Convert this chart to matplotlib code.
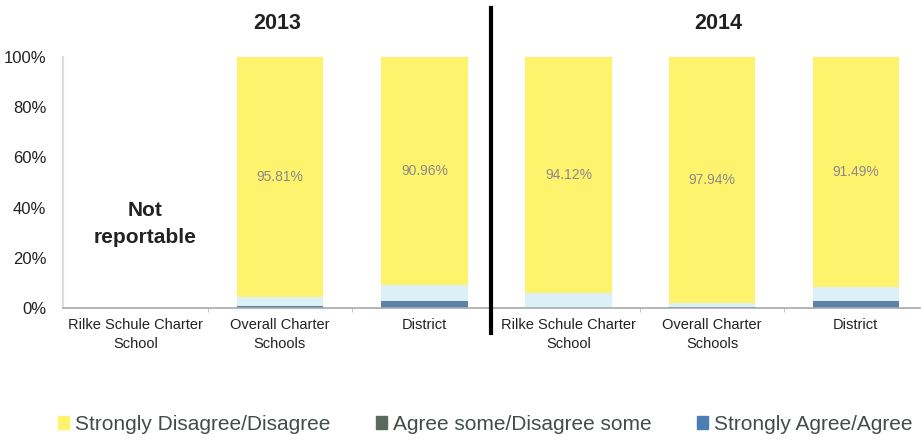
import matplotlib
matplotlib.use("Agg")
import matplotlib.pyplot as plt
from matplotlib.lines import Line2D
from matplotlib.patches import Patch

plt.rcParams['font.family'] = ['Liberation Sans', 'DejaVu Sans']

categories = ["Rilke Schule Charter\nSchool", "Overall Charter\nSchools", "District"]
years = ["2013", "2014"]

# stacked from the bottom up, percent
agree = {"2013": [0.0, 0.7, 2.8], "2014": [0.0, 0.56, 2.8]}
some = {"2013": [0.0, 3.49, 6.24], "2014": [5.88, 1.5, 5.71]}
disagree = {"2013": [0.0, 95.81, 90.96], "2014": [94.12, 97.94, 91.49]}
reportable = {"2013": [False, True, True], "2014": [True, True, True]}

c_disagree = "#fff36e"
c_some = "#dcf0f8"
c_agree = "#5b82a8"

fig = plt.figure(figsize=(9.21, 4.41), dpi=100)
axes = [fig.add_axes([0.0684, 0.3016, 0.4647, 0.569]),
        fig.add_axes([0.5331, 0.3016, 0.4660, 0.569])]
xlims = [(-0.5, 2.46), (-0.54, 2.45)]

for ax, yr, xl in zip(axes, years, xlims):
    x = range(len(categories))
    a = agree[yr]
    s = some[yr]
    d = disagree[yr]
    base2 = [i + j for i, j in zip(a, s)]
    ax.bar(x, a, width=0.6, color=c_agree)
    ax.bar(x, s, width=0.6, bottom=a, color=c_some)
    ax.bar(x, d, width=0.6, bottom=base2, color=c_disagree)
    for i in x:
        if reportable[yr][i]:
            ax.text(i, base2[i] + d[i] / 2, f"{d[i]:.2f}%", ha="center", va="center",
                    fontsize=10, color="#8a8a8a")
        else:
            ax.text(i + 0.07, 33.5, "Not\nreportable", ha="center", va="center",
                    fontsize=15, fontweight="bold", color="#222222", linespacing=1.55)
    ax.set_xlim(*xl)
    ax.set_ylim(0, 100)
    ax.set_xticks(list(x))
    ax.set_xticklabels(categories, fontsize=10.5, color="#222222", linespacing=1.5)
    ax.tick_params(axis="x", length=0, pad=7)
    ax.set_xticks([0.5, 1.5], minor=True)
    ax.tick_params(axis="x", which="minor", length=3, color="#bbbbbb", direction="out")
    for sp in ["top", "right"]:
        ax.spines[sp].set_visible(False)
    ax.spines["bottom"].set_color("#aaaaaa")
    ax.spines["bottom"].set_linewidth(1.2)
    ax.set_title(yr, fontsize=15.5, fontweight="bold", color="#222222", pad=20)

ax0, ax1 = axes
ax0.set_yticks([0, 20, 40, 60, 80, 100])
ax0.set_yticklabels([f"{v}%" for v in [0, 20, 40, 60, 80, 100]], fontsize=12, color="#222222")
ax0.tick_params(axis="y", length=0, pad=12)
ax0.spines["left"].set_color("#dddddd")
ax0.spines["left"].set_linewidth(1.5)
ax1.set_yticks([])
ax1.spines["left"].set_visible(False)
ax1.title.set_position((0.53, 1.0))

# divider between years
fig.add_artist(Line2D([491 / 921, 491 / 921], [1 - 8 / 441, 1 - 333 / 441],
                      color="black", linewidth=3, transform=fig.transFigure))

handles = [Patch(color=c_disagree), Patch(color="#5a6a60"), Patch(color="#4a7eb5")]
labels = ["Strongly Disagree/Disagree", "Agree some/Disagree some", "Strongly Agree/Agree"]
fig.legend(handles, labels, loc="center", bbox_to_anchor=(0.527, 0.037), ncol=3,
           frameon=False, fontsize=15, handlelength=0.5, handleheight=0.6,
           handletextpad=0.3, columnspacing=2.2, labelcolor="#444d48")

fig.savefig("out.png", dpi=100)
